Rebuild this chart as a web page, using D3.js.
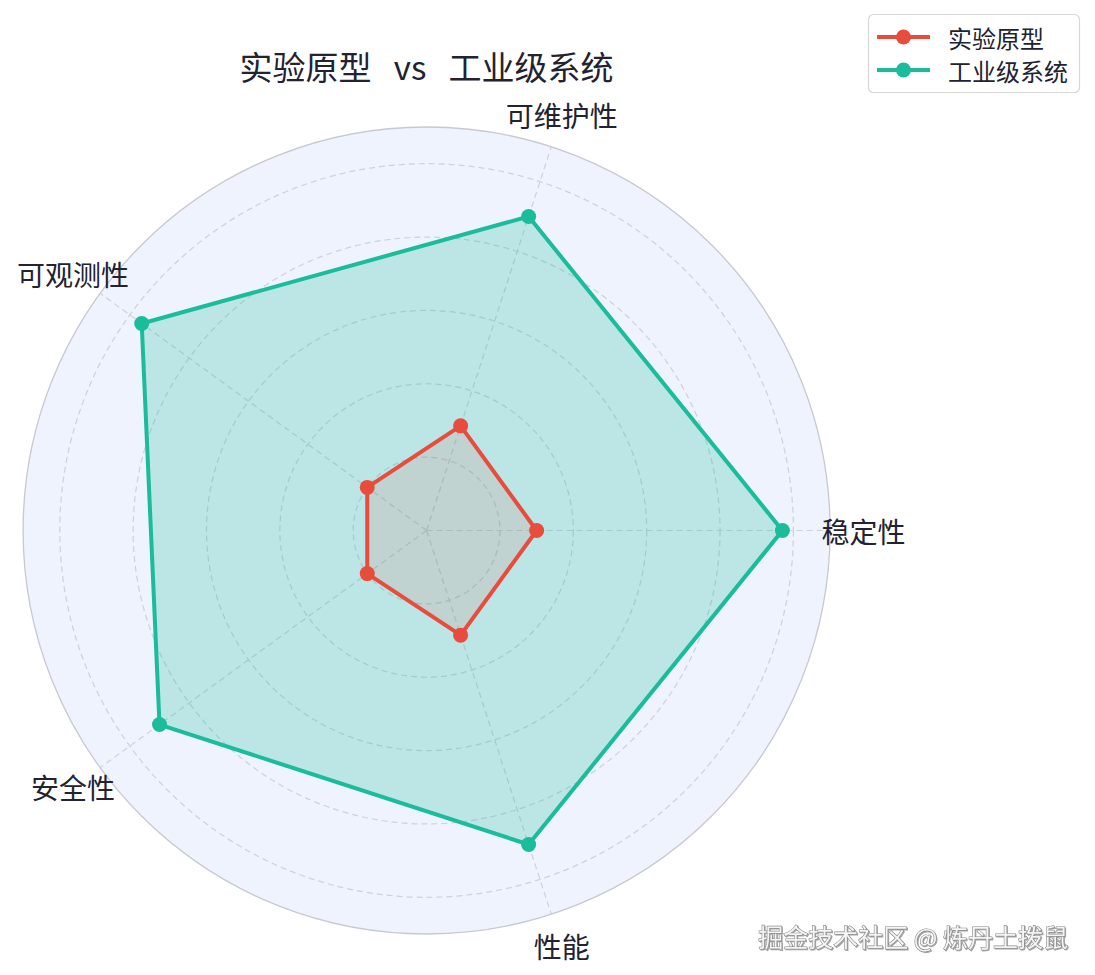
<!DOCTYPE html>
<html>
<head>
<meta charset="utf-8">
<script src="https://cdn.jsdelivr.net/npm/d3@7"></script>
<style>
  html, body { margin: 0; padding: 0; background: #ffffff; }
  svg { display: block; font-family: "Noto Sans CJK SC", "Noto Sans", sans-serif; }
</style>
</head>
<body>
<svg id="chart" width="1095" height="975"></svg>
<script>
const categories = ["稳定性", "可维护性", "可观测性", "安全性", "性能"];
const seriesNames = ["实验原型", "工业级系统"];
const prototypeValues = [3, 3, 2, 2, 3];
const industrialValues = [9.7, 9, 9.6, 9, 9];
const gridTicks = [2, 4, 6, 8, 10];
const rMax = 11;
const titleText = "实验原型\u00A0\u00A0\u00A0vs\u00A0\u00A0\u00A0工业级系统";
const watermarkText = "掘金技术社区 @ 炼丹土拨鼠";
const colors = ["#e74c3c", "#1abc9c"];

const svg = d3.select("#chart");
const cx = 426.6, cy = 530.5, R = 403.5;

const r = d3.scaleLinear().domain([0, rMax]).range([0, R]);
const angle = d3.scaleLinear().domain([0, categories.length]).range([0, 2 * Math.PI]);
const px = (i, v) => cx + r(v) * Math.cos(angle(i));
const py = (i, v) => cy - r(v) * Math.sin(angle(i));

const g = svg.append("g");

g.append("circle").attr("cx", cx).attr("cy", cy).attr("r", R)
  .attr("fill", "#eef3fd").attr("stroke", "none");

g.selectAll("circle.grid").data(gridTicks).join("circle")
  .attr("class", "grid")
  .attr("cx", cx).attr("cy", cy).attr("r", d => r(d))
  .attr("fill", "none").attr("stroke", "#cfd0dc").attr("stroke-width", 1.2)
  .attr("stroke-dasharray", "6,4");

g.selectAll("line.spoke").data(categories).join("line")
  .attr("class", "spoke")
  .attr("x1", cx).attr("y1", cy)
  .attr("x2", (d, i) => px(i, rMax)).attr("y2", (d, i) => py(i, rMax))
  .attr("stroke", "#cfd0dc").attr("stroke-width", 1.2)
  .attr("stroke-dasharray", "6,4");

g.append("circle").attr("cx", cx).attr("cy", cy).attr("r", R)
  .attr("fill", "none").attr("stroke", "#c8c8d0").attr("stroke-width", 1.3);

const line = d3.line().curve(d3.curveLinearClosed);
const series = [
  { name: seriesNames[1], values: industrialValues, color: colors[1], fo: 0.24 },
  { name: seriesNames[0], values: prototypeValues, color: colors[0], fo: 0.12 }
];

series.forEach(s => {
  const pts = s.values.map((v, i) => [px(i, v), py(i, v)]);
  g.append("path").attr("d", line(pts))
    .attr("fill", s.color).attr("fill-opacity", s.fo)
    .attr("stroke", s.color).attr("stroke-width", 4)
    .attr("stroke-linejoin", "round");
  g.selectAll(null).data(pts).join("circle")
    .attr("cx", d => d[0]).attr("cy", d => d[1]).attr("r", 7.5)
    .attr("fill", s.color);
});

const labelR = 437;
g.selectAll("text.cat").data(categories).join("text")
  .attr("class", "cat")
  .attr("x", (d, i) => cx + labelR * Math.cos(angle(i)))
  .attr("y", (d, i) => cy - labelR * Math.sin(angle(i)))
  .attr("text-anchor", "middle").attr("dominant-baseline", "central")
  .attr("font-size", 28).attr("fill", "#222230")
  .text(d => d);

svg.append("text").attr("x", cx).attr("y", 66)
  .attr("text-anchor", "middle").attr("dominant-baseline", "central")
  .attr("font-size", 33).attr("fill", "#222230")
  .text(titleText);

const lg = svg.append("g");
lg.append("rect").attr("x", 868.5).attr("y", 14.5).attr("width", 211).attr("height", 78)
  .attr("rx", 5).attr("fill", "#ffffff").attr("stroke", "#d8d8d8").attr("stroke-width", 1.2);
seriesNames.forEach((name, i) => {
  const y = 37 + i * 33;
  lg.append("line").attr("x1", 877).attr("x2", 930).attr("y1", y).attr("y2", y)
    .attr("stroke", colors[i]).attr("stroke-width", 4);
  lg.append("circle").attr("cx", 903.5).attr("cy", y).attr("r", 7.5).attr("fill", colors[i]);
  lg.append("text").attr("x", 948).attr("y", y)
    .attr("dominant-baseline", "central").attr("font-size", 24).attr("fill", "#222230")
    .text(name);
});

svg.append("text").attr("x", 1068).attr("y", 936)
  .attr("text-anchor", "end").attr("dominant-baseline", "central")
  .attr("font-size", 25).attr("fill", "#f4f4f4")
  .attr("stroke", "#8a8a8a").attr("stroke-width", 1.2).attr("paint-order", "stroke")
  .style("filter", "drop-shadow(1px 1px 0.6px rgba(0,0,0,0.35))")
  .text(watermarkText);
</script>
</body>
</html>
